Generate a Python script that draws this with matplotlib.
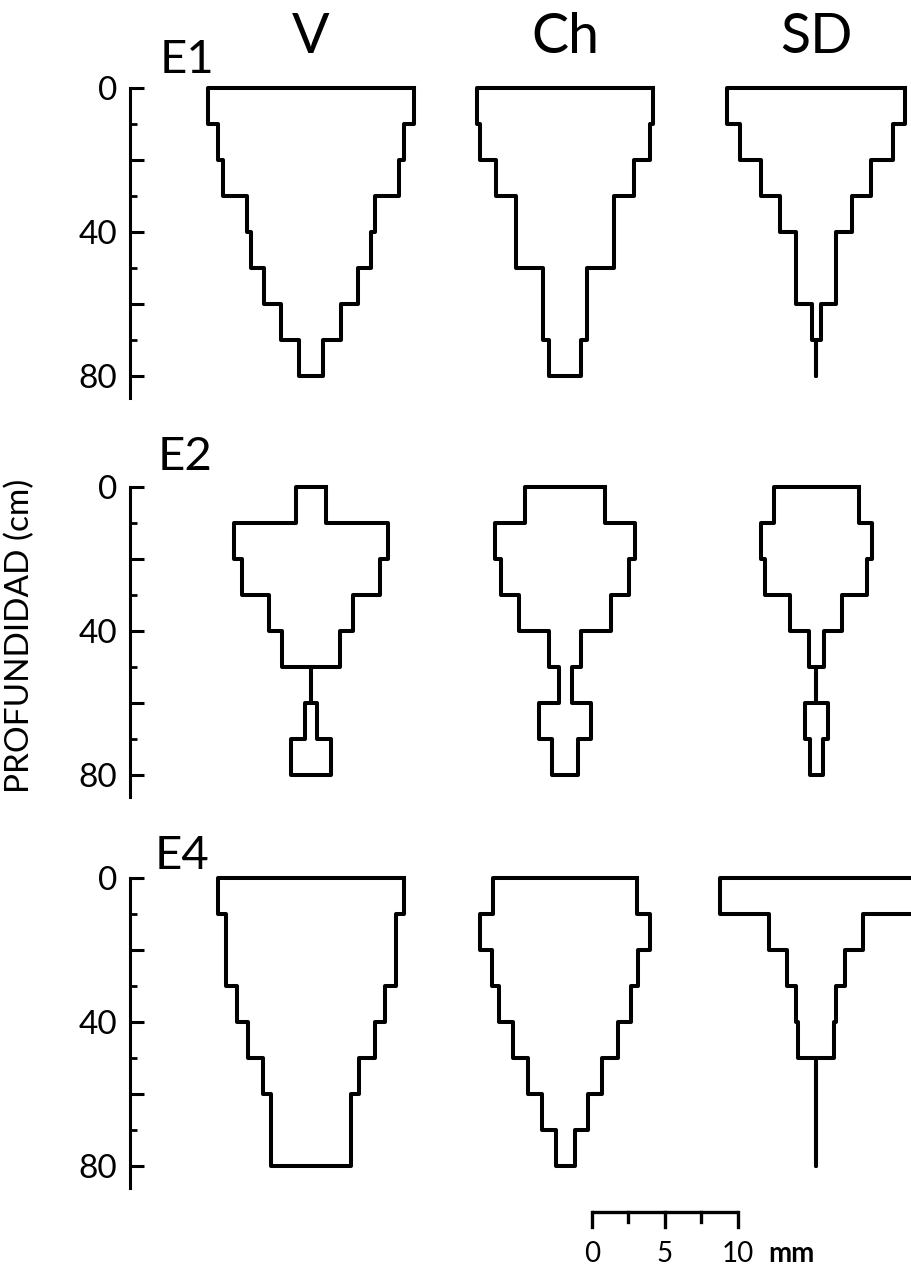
import matplotlib
matplotlib.use("Agg")
import matplotlib.pyplot as plt
import numpy as np

plt.rcParams['font.family'] = ['Lato', 'DejaVu Sans']

# depth layers (cm) and root-zone widths per layer (mm)
depths = [0, 10, 20, 30, 40, 50, 60, 70, 80]
sites = ['E1', 'E2', 'E4']
species = ['V', 'Ch', 'SD']

e1_v = [14.1, 12.7, 12.1, 8.8, 8.2, 6.4, 4.1, 1.6]
e1_ch = [12.1, 11.6, 9.4, 6.7, 6.7, 3.0, 3.0, 2.2]
e1_sd = [12.2, 10.5, 7.5, 4.9, 2.7, 2.7, 0.6, 0.0]

e2_v = [2.1, 10.6, 9.4, 5.7, 4.0, 0.0, 0.8, 2.7]
e2_ch = [5.5, 9.6, 8.8, 6.3, 2.2, 0.9, 3.6, 1.8]
e2_sd = [5.8, 7.6, 7.0, 3.6, 1.0, 0.0, 1.6, 0.9]

e4_v = [12.8, 11.6, 11.6, 10.1, 8.7, 6.6, 5.5, 5.5]
e4_ch = [9.9, 11.7, 10.0, 9.0, 7.2, 5.1, 3.1, 1.3]
e4_sd = [13.2, 6.4, 4.0, 2.7, 2.5, 0.0, 0.0, 0.0]

widths = [[e1_v, e1_ch, e1_sd],
          [e2_v, e2_ch, e2_sd],
          [e4_v, e4_ch, e4_sd]]

# scale bar ticks (mm)
bar_ticks = [0, 2.5, 5, 7.5, 10]

# layout (pixels of the 912x1285 figure)
W, H = 912, 1285
px_mm = 14.6
px_cm = 3.6
ax_left = 130
row_tops = [88, 487, 878]
centers = [12.4, 29.8, 47.0]
ymax = 86


def kite(ax, c, w):
    xs, ys = [], []
    for i, wi in enumerate(w):
        xs += [c + wi / 2, c + wi / 2]
        ys += [depths[i], depths[i + 1]]
    for i in range(len(w) - 1, -1, -1):
        xs += [c - w[i] / 2, c - w[i] / 2]
        ys += [depths[i + 1], depths[i]]
    xs.append(xs[0])
    ys.append(ys[0])
    ax.plot(xs, ys, color='black', lw=2.9, solid_joinstyle='round',
            clip_on=False)


fig = plt.figure(figsize=(W / 100, H / 100), dpi=100)
axes = []
for r, top in enumerate(row_tops):
    h = ymax * px_cm
    ax = fig.add_axes([ax_left / W, 1 - (top + h) / H,
                       (W - ax_left) / W, h / H])
    ax.set_xlim(0, (W - ax_left) / px_mm)
    ax.set_ylim(ymax, 0)
    for s in ['top', 'right', 'bottom']:
        ax.spines[s].set_visible(False)
    ax.spines['left'].set_linewidth(2.2)
    ax.set_xticks([])
    ax.set_yticks([0, 20, 40, 60, 80])
    ax.set_yticklabels(['0', '', '40', '', '80'])
    ax.set_yticks([10, 30, 50, 70], minor=True)
    ax.tick_params(axis='y', which='major', direction='in', length=10,
                   width=2.2, labelsize=24, pad=9)
    ax.tick_params(axis='y', which='minor', direction='in', length=5,
                   width=2.0)
    for k in range(3):
        kite(ax, centers[k], widths[r][k])
    axes.append(ax)

# site labels
axes[0].text(2.0, -2.0, sites[0], fontsize=34, ha='left', va='bottom')
axes[1].text(1.9, -2.6, sites[1], fontsize=34, ha='left', va='bottom')
axes[2].text(1.7, -0.2, sites[2], fontsize=34, ha='left', va='bottom')

# species headers
for k, name in enumerate(species):
    axes[0].text(centers[k], -7.0, name, fontsize=40, ha='center',
                 va='bottom')

fig.text(20 / W, 1 - 636 / H, 'PROFUNDIDAD (cm)', rotation=90,
         ha='center', va='center', fontsize=24)

# scale bar
ax = axes[2]
x0 = (592 - ax_left) / px_mm
yb = 92.8
ax.plot([x0, x0 + bar_ticks[-1]], [yb, yb], color='black', lw=2.4,
        clip_on=False, solid_capstyle='butt')
for t in bar_ticks:
    ln = 4.2 if t in (0, 5, 10) else 2.8
    ax.plot([x0 + t, x0 + t], [yb, yb + ln], color='black', lw=2.4,
            clip_on=False)
ax.text(x0, 104.4, '0', fontsize=20, ha='center', va='center')
ax.text(x0 + 5, 104.4, '5', fontsize=20, ha='center', va='center')
ax.text(x0 + 10, 104.4, '10', fontsize=20, ha='center', va='center')
ax.text(x0 + 12.1, 104.4, 'mm', fontsize=20, fontweight='bold',
        ha='left', va='center')

fig.savefig('out.png', dpi=100)
